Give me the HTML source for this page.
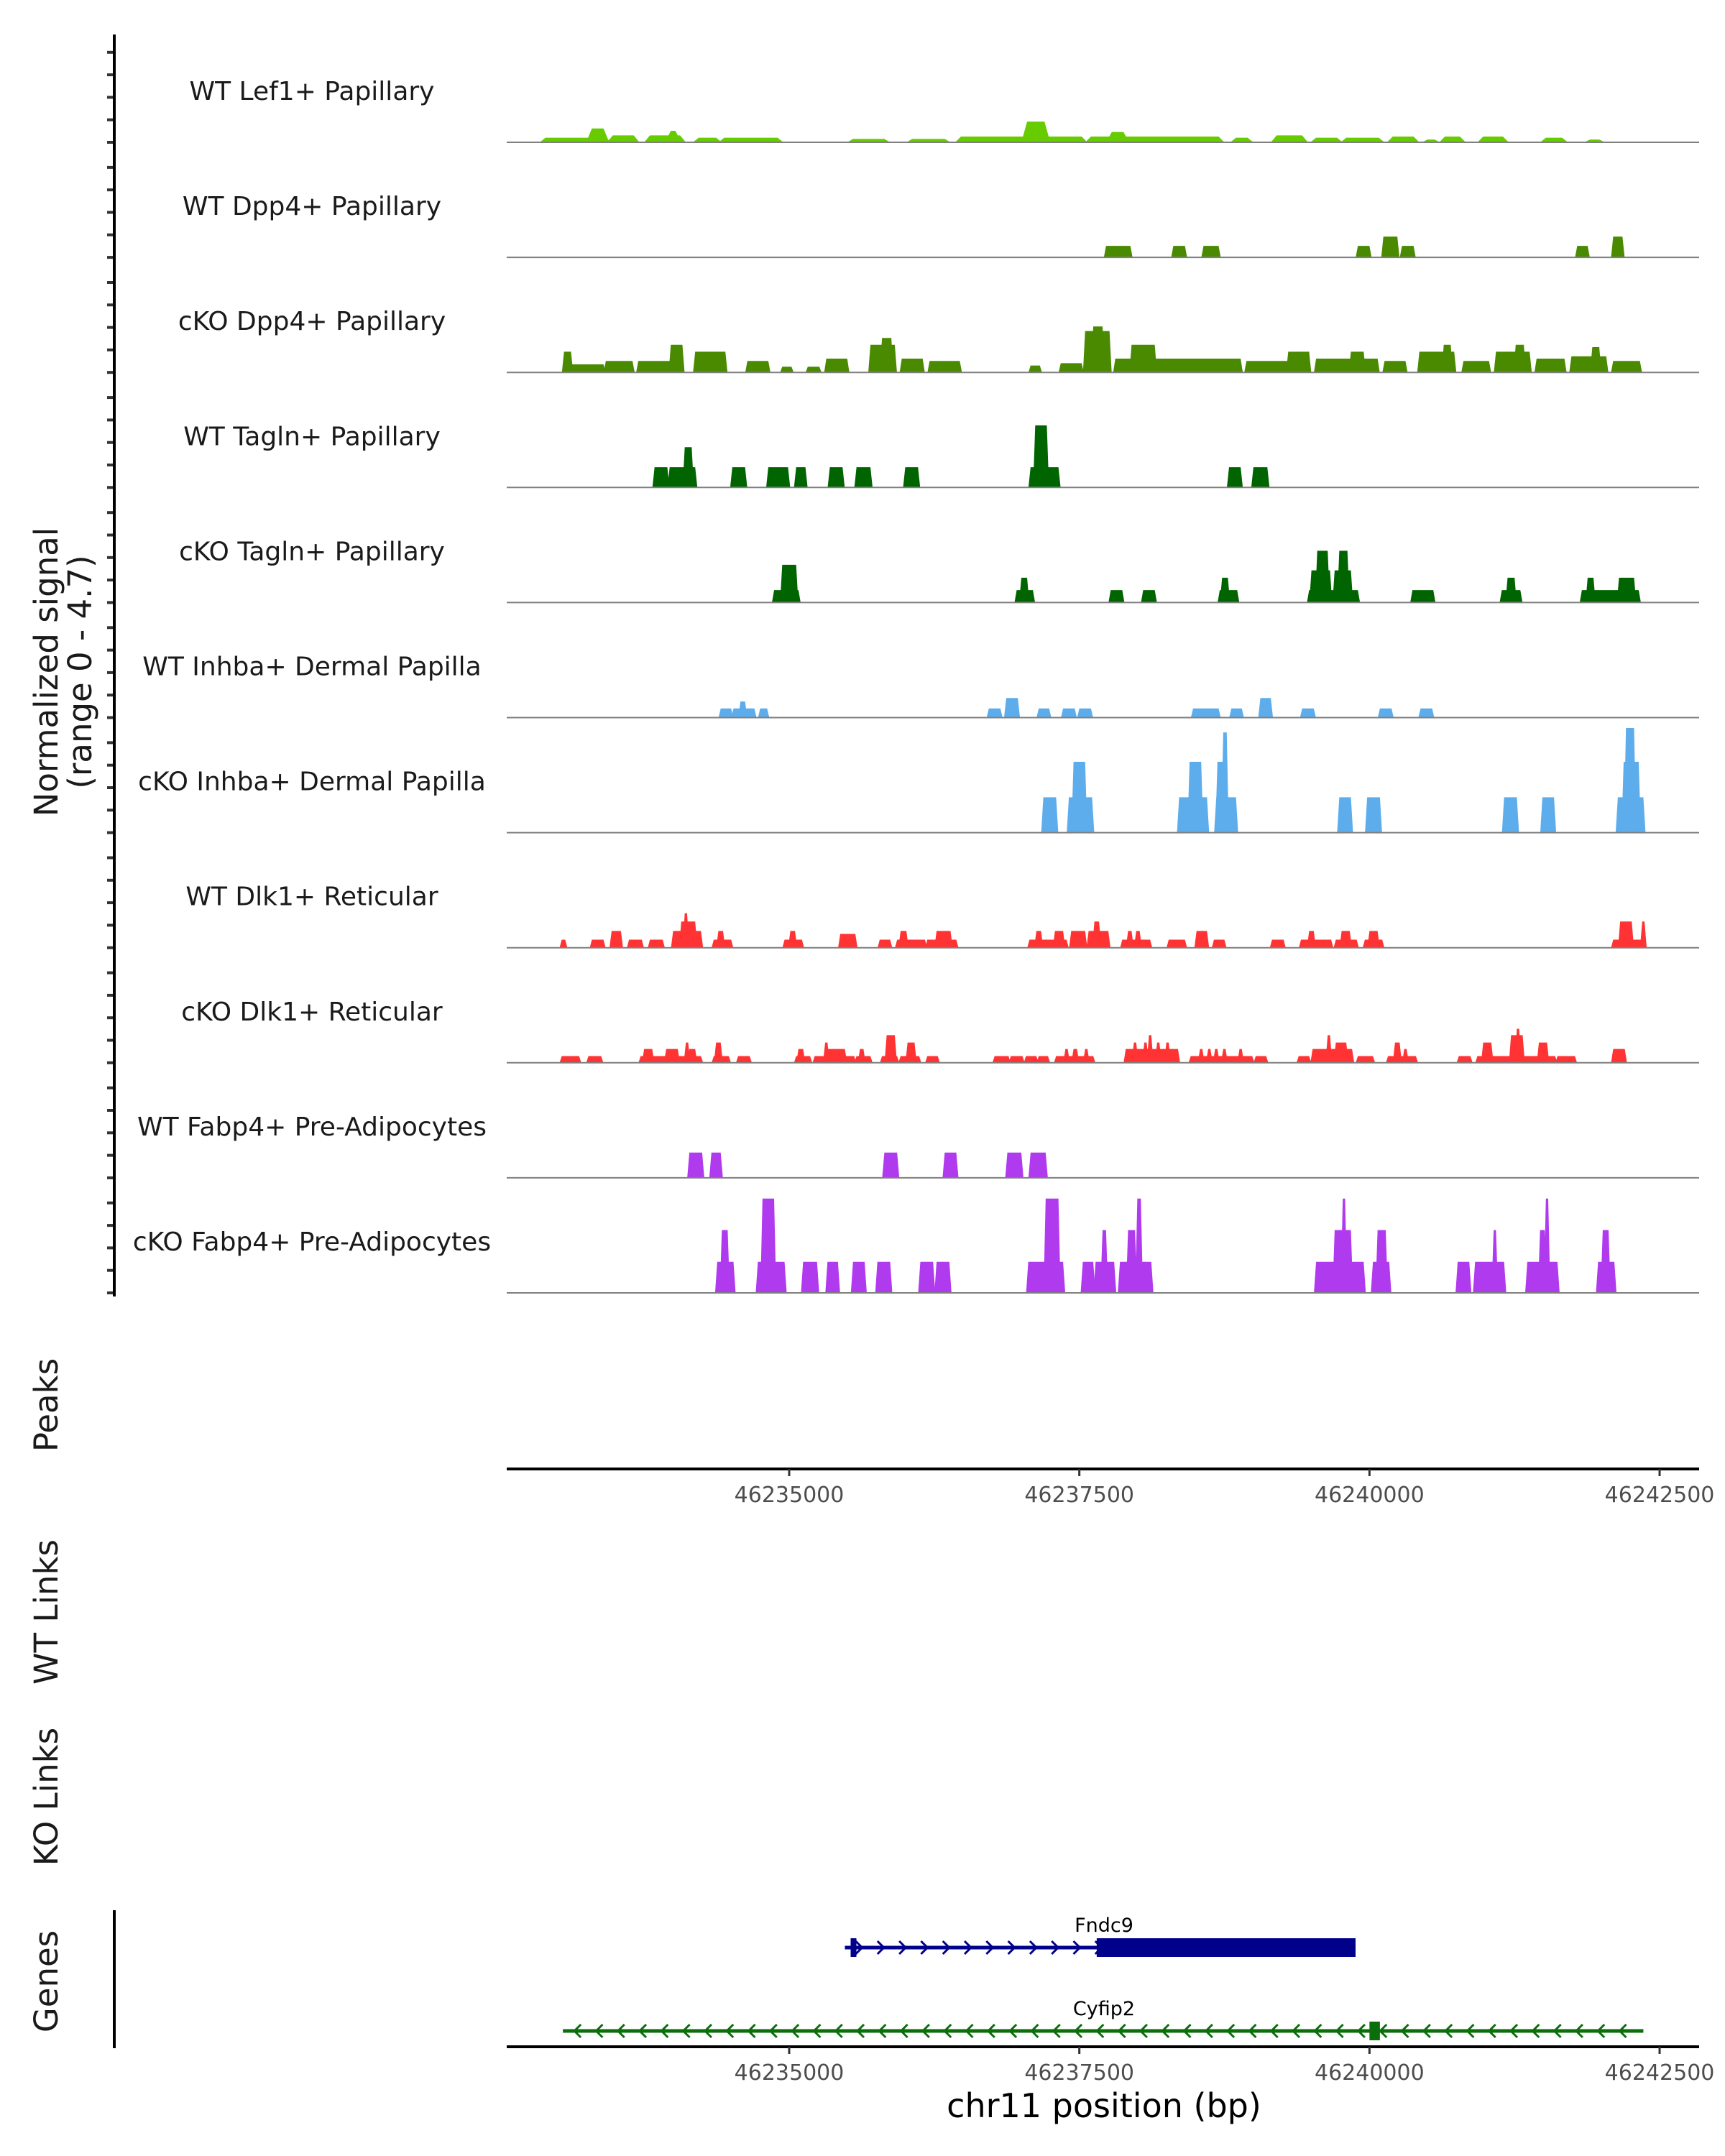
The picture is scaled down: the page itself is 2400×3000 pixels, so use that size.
<!DOCTYPE html>
<html><head><meta charset="utf-8">
<style>
html,body{margin:0;padding:0;background:#fff;}
svg{display:block;font-family:"DejaVu Sans","Liberation Sans",sans-serif;}
</style></head>
<body>
<svg id="chart" width="2400" height="3000" viewBox="0 0 2400 3000" xmlns="http://www.w3.org/2000/svg">
<g id="tracks"></g>
<g id="axes"></g>
<g id="genes"></g>
<text transform="translate(80,935) rotate(-90)" text-anchor="middle" font-size="45" fill="#1a1a1a">Normalized signal</text>
<text transform="translate(127,935) rotate(-90)" text-anchor="middle" font-size="45" fill="#1a1a1a">(range 0 - 4.7)</text>
<text transform="translate(80,1955) rotate(-90)" text-anchor="middle" font-size="45" fill="#1a1a1a">Peaks</text>
<text transform="translate(80,2243) rotate(-90)" text-anchor="middle" font-size="45" fill="#1a1a1a">WT Links</text>
<text transform="translate(80,2500) rotate(-90)" text-anchor="middle" font-size="45" fill="#1a1a1a">KO Links</text>
<text transform="translate(80,2757) rotate(-90)" text-anchor="middle" font-size="45" fill="#1a1a1a">Genes</text>
<text x="1536" y="2946" text-anchor="middle" font-size="46" fill="#000">chr11 position (bp)</text>
</svg>
<script>
// ---- data (positions in kb relative to chr11:46,230,000; heights in normalized signal) ----
const trackNames = ["WT Lef1+ Papillary","WT Dpp4+ Papillary","cKO Dpp4+ Papillary","WT Tagln+ Papillary","cKO Tagln+ Papillary","WT Inhba+ Dermal Papilla","cKO Inhba+ Dermal Papilla","WT Dlk1+ Reticular","cKO Dlk1+ Reticular","WT Fabp4+ Pre-Adipocytes","cKO Fabp4+ Pre-Adipocytes"];
const trackColors = ["#66CC00","#4A8A00","#4A8A00","#006400","#006400","#5DADEC","#5DADEC","#FF3333","#FF3333","#B03AEE","#B03AEE"];
const peaksLef1WT = [[2.90,3.42,0.2],[3.30,3.40,0.6],[3.48,3.66,0.3],[3.80,4.06,0.3],[3.98,4.02,0.5],[4.22,4.37,0.2],[4.44,4.90,0.2],[5.55,5.82,0.15],[6.06,6.34,0.15],[6.48,7.52,0.25],[7.05,7.20,0.9],[7.60,8.70,0.25],[7.78,7.88,0.45],[8.85,8.95,0.2],[9.20,9.42,0.3],[9.54,9.72,0.2],[9.80,10.08,0.2],[10.20,10.38,0.25],[10.50,10.56,0.12],[10.65,10.78,0.25],[10.98,11.15,0.25],[11.52,11.66,0.2],[11.90,11.98,0.12]];
const peaksDpp4WT = [[7.73,7.94,0.5],[8.31,8.41,0.5],[8.57,8.70,0.5],[9.90,10.0,0.5],[10.12,10.24,0.9],[10.28,10.38,0.5],[11.79,11.88,0.5],[12.10,12.18,0.9]];
const peaksDpp4KO = [[3.06,3.12,0.9],[3.06,3.40,0.35],[3.42,3.65,0.5],[3.70,4.00,0.5],[3.98,4.08,1.2],[4.19,4.45,0.9],[4.64,4.82,0.5],[4.94,5.02,0.25],[5.16,5.26,0.25],[5.32,5.50,0.6],[5.70,5.91,1.2],[5.80,5.88,1.5],[5.97,6.15,0.6],[6.21,6.47,0.5],[7.08,7.16,0.3],[7.34,7.52,0.4],[7.55,7.76,1.8],[7.62,7.70,2.0],[7.81,8.89,0.6],[7.95,8.15,1.2],[8.94,9.30,0.5],[9.30,9.48,0.9],[9.54,10.07,0.6],[9.84,9.95,0.9],[10.13,10.31,0.5],[10.43,10.73,0.9],[10.64,10.70,1.2],[10.81,11.03,0.5],[11.09,11.38,0.9],[11.26,11.33,1.2],[11.44,11.68,0.6],[11.74,12.04,0.7],[11.92,11.98,1.1],[12.10,12.33,0.5]];
const peaksTaglnWT = [[3.84,3.95,0.88],[3.97,4.19,0.88],[4.10,4.16,1.75],[4.51,4.62,0.88],[4.82,4.99,0.88],[5.06,5.14,0.88],[5.35,5.46,0.88],[5.58,5.70,0.88],[6.00,6.11,0.88],[7.08,7.32,0.88],[7.12,7.22,2.7],[8.79,8.89,0.88],[9.00,9.12,0.88]];
const peaksTaglnKO = [[4.87,5.08,0.54],[4.94,5.06,1.64],[6.96,7.10,0.54],[7.00,7.05,1.08],[7.77,7.87,0.54],[8.05,8.15,0.54],[8.71,8.86,0.54],[8.73,8.78,1.08],[9.48,9.90,0.54],[9.50,9.66,1.4],[9.55,9.64,2.25],[9.70,9.84,1.4],[9.74,9.81,2.25],[10.37,10.55,0.54],[11.14,11.30,0.54],[11.19,11.25,1.08],[11.83,12.00,0.54],[11.88,11.93,1.08],[12.00,12.32,0.54],[12.15,12.28,1.08]];
const peaksInhbaWT = [[4.41,4.50,0.4],[4.52,4.70,0.4],[4.58,4.62,0.7],[4.75,4.81,0.4],[6.72,6.82,0.4],[6.87,6.97,0.85],[7.15,7.24,0.4],[7.36,7.46,0.4],[7.50,7.60,0.4],[8.48,8.70,0.4],[8.81,8.90,0.4],[9.06,9.15,0.85],[9.42,9.52,0.4],[10.09,10.19,0.4],[10.44,10.54,0.4]];
const peaksInhbaKO = [[7.19,7.30,1.54],[7.41,7.61,1.54],[7.45,7.55,3.08],[8.36,8.60,1.54],[8.45,8.55,3.08],[8.68,8.85,1.54],[8.69,8.75,3.08],[8.74,8.77,4.36],[9.74,9.84,1.54],[9.98,10.09,1.54],[11.16,11.27,1.54],[11.49,11.59,1.54],[12.14,12.36,1.54],[12.19,12.32,3.08],[12.21,12.28,4.55]];
const peaksDlk1WT = [[3.04,3.07,0.35],[3.30,3.40,0.35],[3.47,3.55,0.73],[3.62,3.73,0.35],[3.80,3.91,0.35],[4.00,4.24,0.73],[4.07,4.19,1.14],[4.10,4.12,1.5],[4.35,4.50,0.35],[4.39,4.43,0.73],[4.96,5.11,0.35],[5.01,5.05,0.73],[5.44,5.57,0.6],[5.78,5.87,0.35],[5.93,6.17,0.35],[5.96,6.01,0.73],[6.19,6.44,0.35],[6.27,6.39,0.73],[7.07,7.39,0.35],[7.13,7.17,0.73],[7.29,7.36,0.73],[7.43,7.55,0.73],[7.58,7.75,0.73],[7.63,7.67,1.14],[7.87,8.11,0.35],[7.92,7.95,0.73],[7.99,8.02,0.73],[8.27,8.41,0.35],[8.51,8.60,0.73],[8.66,8.75,0.35],[9.16,9.26,0.35],[9.41,9.56,0.35],[9.48,9.52,0.73],[9.56,9.67,0.35],[9.71,9.89,0.35],[9.76,9.83,0.73],[9.96,10.11,0.35],[10.00,10.07,0.73],[12.10,12.36,0.35],[12.16,12.26,1.14],[12.35,12.37,1.14]];
const peaksDlk1KO = [[3.04,3.19,0.29],[3.27,3.38,0.29],[3.72,4.24,0.29],[3.75,3.82,0.6],[3.94,4.04,0.6],[4.11,4.13,0.88],[4.14,4.19,0.6],[4.35,4.48,0.29],[4.37,4.41,0.88],[4.56,4.66,0.29],[5.06,5.18,0.29],[5.08,5.12,0.6],[5.22,5.56,0.29],[5.31,5.48,0.6],[5.31,5.33,0.88],[5.58,5.70,0.29],[5.61,5.64,0.6],[5.80,5.93,0.29],[5.84,5.91,1.2],[5.96,6.12,0.29],[6.02,6.08,0.88],[6.19,6.28,0.29],[6.77,6.89,0.29],[6.91,7.01,0.29],[7.04,7.13,0.29],[7.15,7.23,0.29],[7.30,7.62,0.29],[7.38,7.40,0.6],[7.45,7.48,0.6],[7.55,7.57,0.6],[7.90,8.35,0.6],[7.97,7.99,0.88],[8.06,8.08,0.88],[8.10,8.12,1.2],[8.17,8.19,0.88],[8.25,8.27,0.88],[8.46,8.99,0.29],[8.54,8.56,0.6],[8.61,8.63,0.6],[8.67,8.69,0.6],[8.74,8.76,0.6],[8.88,8.90,0.6],[9.02,9.11,0.29],[9.39,9.48,0.29],[9.51,9.85,0.6],[9.64,9.66,1.2],[9.71,9.80,0.88],[9.90,10.03,0.29],[10.16,10.40,0.29],[10.22,10.26,0.88],[10.30,10.32,0.6],[10.77,10.87,0.29],[10.93,11.60,0.29],[10.98,11.05,0.88],[11.22,11.32,1.2],[11.27,11.29,1.48],[11.46,11.53,0.88],[11.62,11.77,0.29],[12.10,12.20,0.6]];
const peaksFabp4WT = [[4.14,4.25,1.1],[4.33,4.41,1.1],[5.82,5.93,1.1],[6.34,6.44,1.1],[6.88,7.00,1.1],[7.08,7.21,1.1]];
const peaksFabp4KO = [[4.38,4.52,1.35],[4.42,4.47,2.73],[4.73,4.96,1.35],[4.77,4.87,4.1],[5.12,5.24,1.35],[5.33,5.42,1.35],[5.55,5.65,1.35],[5.76,5.87,1.35],[6.13,6.24,1.35],[6.27,6.38,1.35],[7.06,7.36,1.35],[7.21,7.32,4.1],[7.53,7.62,1.35],[7.64,7.80,1.35],[7.70,7.73,2.73],[7.85,8.12,1.35],[7.92,7.98,2.73],[8.00,8.03,4.1],[9.54,9.95,1.35],[9.70,9.84,2.73],[9.77,9.79,4.1],[10.03,10.17,1.35],[10.07,10.14,2.73],[10.76,10.86,1.35],[10.91,11.01,1.35],[11.01,11.16,1.35],[11.07,11.09,2.73],[11.36,11.62,1.35],[11.47,11.51,2.73],[11.52,11.54,4.1],[11.97,12.11,1.35],[12.01,12.06,2.73]];
const trackPeaks = [peaksLef1WT,peaksDpp4WT,peaksDpp4KO,peaksTaglnWT,peaksTaglnKO,peaksInhbaWT,peaksInhbaKO,peaksDlk1WT,peaksDlk1KO,peaksFabp4WT,peaksFabp4KO];
const xTicks = [46235000,46237500,46240000,46242500];
const geneFndc9 = {name:"Fndc9", start:5.48, end:9.88, cdsStart:7.65, cdsEnd:9.88, strand:1};
const geneCyfip2 = {name:"Cyfip2", start:3.05, end:12.36, cdsStart:10.00, cdsEnd:10.09, strand:-1};

// ---- scales ----
const NS="http://www.w3.org/2000/svg";
const X0=705, X1=2364, KB0=2.566, KB1=12.835;
function xBp(bp){return 1098+(bp-46235000)*0.16147;}
function xKb(kb){return xBp(46230000+kb*1000);}
const PX_PER_UNIT=32;
function yH(base,h){return base-h*PX_PER_UNIT;}
const TRACK_TOP=198, TRACK_STEP=160.1;
function mk(tag,attrs,parent){const e=document.createElementNS(NS,tag);for(const k in attrs)e.setAttribute(k,attrs[k]);parent.appendChild(e);return e;}

const tracks=document.getElementById('tracks');
const axes=document.getElementById('axes');
trackNames.forEach((nm,i)=>{
  const base=TRACK_TOP+i*TRACK_STEP;
  const g=mk('g',{},tracks);
  
  
  const lbl=mk('text',{x:434,y:base-59,'text-anchor':'middle','font-size':36,fill:'#1a1a1a'},g);
  lbl.textContent=nm;
  
  
  const ramp = i===0 ? 8 : 3;
  trackPeaks[i].forEach(p=>{
    const a=xKb(p[0]), b=xKb(p[1]), t=yH(base,p[2]);
    const poly=mk('polygon',{points:`${a-ramp},${base} ${a},${t} ${b},${t} ${b+ramp},${base}`,fill:trackColors[i]},g);
    
    
  });
  const bl=mk('line',{x1:X0,x2:X1,y1:base,y2:base,stroke:'#7f7f7f','stroke-width':2},g);
  
  
  for(let k=0;k<5;k++){
    const tk=mk('line',{x1:149,x2:159,y1:base-k*31.3,y2:base-k*31.3,stroke:'#333','stroke-width':4},axes);
    
    
  }
});
const yl=mk('line',{x1:159,x2:159,y1:48,y2:1804,stroke:'#000','stroke-width':4},axes);



function xAxis(y,name){
  const l=mk('line',{x1:X0,x2:X1,y1:y,y2:y,stroke:'#000','stroke-width':4},axes);
  
  
  xTicks.forEach(t=>{
    const x=xBp(t);
    const tk=mk('line',{x1:x,x2:x,y1:y,y2:y+10,stroke:'#333','stroke-width':3},axes);
    
    
    const tx=mk('text',{x:x,y:y+46,'text-anchor':'middle','font-size':30,fill:'#4d4d4d'},axes);
    tx.textContent=t;
    
    
  });
}
xAxis(2044,'peaks-x-axis');
xAxis(2848,'genes-x-axis');
const gl=mk('line',{x1:159,x2:159,y1:2658,y2:2850,stroke:'#000','stroke-width':4},axes);



const genesG=document.getElementById('genes');
function drawGene(gn,y,color){
  const g=mk('g',{},genesG);
  
  
  const a=xKb(gn.start), b=xKb(gn.end);
  mk('line',{x1:a,x2:b,y1:y,y2:y,stroke:color,'stroke-width':5},g);
  for(let x=a+20;x<b-8;x+=30.3){
    const d=gn.strand>0?1:-1;
    mk('polyline',{points:`${x-5*d},${y-9} ${x+4*d},${y} ${x-5*d},${y+9}`,fill:'none',stroke:color,'stroke-width':3},g);
  }
  mk('rect',{x:xKb(gn.cdsStart),y:y-13,width:Math.max(10,xKb(gn.cdsEnd)-xKb(gn.cdsStart)),height:26,fill:color},g);
  if(gn.strand>0) mk('rect',{x:a+8,y:y-13,width:8,height:26,fill:color},g);
  const t=mk('text',{x:1536,y:y-22,'text-anchor':'middle','font-size':27,fill:'#000'},g);
  t.textContent=gn.name;
  
  
}
drawGene(geneFndc9,2710,'#00008B');
drawGene(geneCyfip2,2826,'#0a6e0a');
</script>
</body></html>
